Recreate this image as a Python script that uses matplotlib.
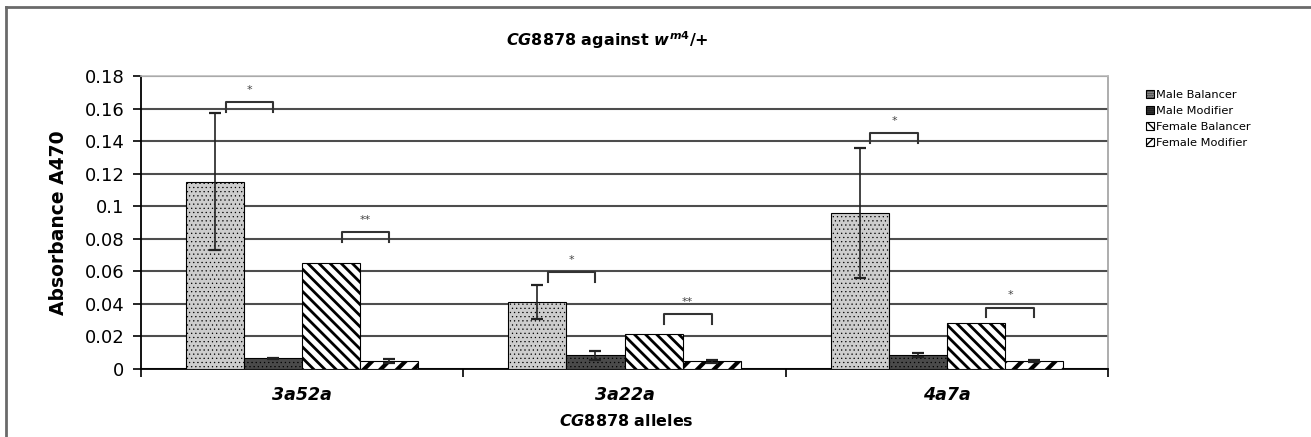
import matplotlib
matplotlib.use("Agg")
import matplotlib.pyplot as plt
from matplotlib.patches import Patch
from matplotlib.lines import Line2D
import numpy as np

plt.rcParams['font.family'] = ['DejaVu Sans']
plt.rcParams['mathtext.fontset'] = 'custom'
plt.rcParams['mathtext.it'] = 'DejaVu Sans:italic:bold'
plt.rcParams['mathtext.rm'] = 'DejaVu Sans:bold'
plt.rcParams['mathtext.bf'] = 'DejaVu Sans:bold'

# ---------------- data ----------------
alleles = ["3a52a", "3a22a", "4a7a"]
series = ["Male Balancer", "Male Modifier", "Female Balancer", "Female Modifier"]
male_balancer = [0.115, 0.0414, 0.0957]
male_modifier = [0.0066, 0.0084, 0.0084]
female_balancer = [0.0654, 0.0217, 0.0280]
female_modifier = [0.0049, 0.0047, 0.0049]
male_balancer_err = [0.042, 0.0105, 0.040]
male_modifier_err = [0.0004, 0.0028, 0.0013]
female_balancer_err = [0.0, 0.0, 0.0]
female_modifier_err = [0.0012, 0.0009, 0.0007]
yticks = [0, 0.02, 0.04, 0.06, 0.08, 0.1, 0.12, 0.14, 0.16, 0.18]
ytick_labels = ["0", "0.02", "0.04", "0.06", "0.08", "0.1", "0.12", "0.14", "0.16", "0.18"]
# significance brackets: (group index, left series, right series, level, label)
sig_group = [0, 0, 1, 1, 2, 2]
sig_left = [0, 2, 0, 2, 0, 2]
sig_right = [1, 3, 1, 3, 1, 3]
sig_level = [0.164, 0.084, 0.0596, 0.0338, 0.1448, 0.0377]
sig_label = ["*", "**", "*", "**", "*", "*"]

values = [male_balancer, male_modifier, female_balancer, female_modifier]
errors = [male_balancer_err, male_modifier_err, female_balancer_err, female_modifier_err]

W, H = 1311, 437
fig = plt.figure(figsize=(W / 100, H / 100), dpi=100)
ax = fig.add_axes([141 / W, 1 - 369 / H, (1108 - 141) / W, (369 - 76) / H])

x = np.arange(len(alleles))
bw = 0.18
styles = [
    dict(facecolor="#cdcdcd", hatch="....", hl=0.4, hc="#9a9a9a"),
    dict(facecolor="#4a4a4a", hatch="....", hl=0.4, hc="#222222"),
    dict(facecolor="white", hatch="\\\\\\", hl=2.0, hc="black"),
    dict(facecolor="white", hatch="//", hl=3.0, hc="black"),
]
legend_hatch = ["....", "....", "\\\\", "//"]
handles = []
for i, (vals, errs, st) in enumerate(zip(values, errors, styles)):
    pos = x + (i - 1.5) * bw
    plt.rcParams['hatch.linewidth'] = st["hl"]
    plt.rcParams['hatch.color'] = st["hc"]
    bars = ax.bar(pos, vals, width=bw, facecolor=st["facecolor"], edgecolor="black",
                  linewidth=0.8, hatch=st["hatch"], zorder=3)
    for b in bars:
        try:
            b.set_hatch_linewidth(st["hl"])
        except Exception:
            pass
        b.set_edgecolor("black")
    e = np.array(errs)
    mask = e > 0
    ax.errorbar(pos[mask], np.array(vals)[mask], yerr=e[mask], fmt="none", ecolor="#222222",
                elinewidth=1.2, capsize=4, capthick=1.6, zorder=4)
    plt.rcParams['hatch.linewidth'] = 1.0
    plt.rcParams['hatch.color'] = "black"
    h = Patch(facecolor=st["facecolor"], edgecolor="black", hatch=legend_hatch[i] * 2,
              linewidth=0.8)
    handles.append(h)

# brackets
leg = 0.006
for g, l, r, lev, lab in zip(sig_group, sig_left, sig_right, sig_level, sig_label):
    x0 = g + (l - 1.5) * bw + 0.18 * bw
    x1 = g + (r - 1.5) * bw
    ax.plot([x0, x0, x1, x1], [lev - leg, lev, lev, lev - leg], color="#333333", lw=1.5,
            solid_joinstyle="round", zorder=5, clip_on=False)
    ax.text((x0 + x1) / 2, lev + 0.0045, lab, ha="center", va="bottom", fontsize=8,
            color="#444444", zorder=5)

ax.set_xlim(-0.5, 2.5)
ax.set_ylim(0, 0.18)
ax.set_yticks(yticks)
ax.set_yticklabels(ytick_labels, fontsize=13)
ax.yaxis.grid(True, color="#4d4d4d", lw=1.5, zorder=1)
ax.set_axisbelow(True)
ax.set_xticks(x)
ax.set_xticklabels(alleles, fontsize=12.5, fontweight="bold", fontstyle="italic")
ax.tick_params(axis="x", length=0, pad=12)
ax.set_xticks([-0.5, 0.5, 1.5, 2.5], minor=True)
ax.tick_params(axis="x", which="minor", length=6, width=1.2, direction="out", color="black")
ax.tick_params(axis="y", length=6, width=1.2, direction="out", color="black", pad=6)
ax.spines["top"].set_color("#bdbdbd")
ax.spines["top"].set_linewidth(1.2)
ax.spines["right"].set_color("#a0a0a0")
ax.spines["right"].set_linewidth(1.2)
ax.spines["left"].set_color("black")
ax.spines["left"].set_linewidth(1.3)
ax.spines["bottom"].set_color("black")
ax.spines["bottom"].set_linewidth(1.3)

ax.set_ylabel("Absorbance A470", fontsize=13.5, fontweight="bold", labelpad=12)
fig.text(626 / W, 1 - 421 / H, r"$\mathit{CG8878}$ alleles", ha="center", va="center",
         fontsize=11.5, fontweight="bold")
fig.text(607 / W, 1 - 40 / H, r"$\mathit{CG8878}$ against $\mathit{w}^{\mathit{m4}}$/+",
         ha="center", va="center", fontsize=11.5, fontweight="bold")

fig.legend(handles=handles, labels=series, loc="upper left",
           bbox_to_anchor=(1141 / W, 1 - 85 / H), frameon=False, fontsize=8.2,
           handlelength=0.7, handleheight=0.7, handletextpad=0.2, labelspacing=0.55,
           borderaxespad=0)

# outer frame
fig.add_artist(Line2D([6 / W, 6 / W], [0, 1 - 7 / H], transform=fig.transFigure,
                      color="#6a6a6a", lw=2))
fig.add_artist(Line2D([6 / W, 1], [1 - 7 / H, 1 - 7 / H], transform=fig.transFigure,
                      color="#6a6a6a", lw=2))

fig.savefig("out.png", dpi=100)
